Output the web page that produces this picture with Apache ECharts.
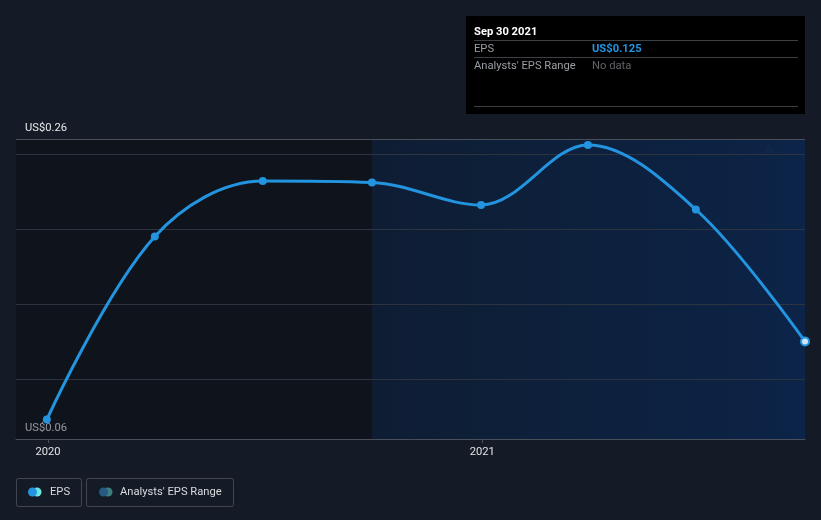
<!DOCTYPE html>
<html>
<head>
<meta charset="utf-8">
<script src="https://cdn.jsdelivr.net/npm/echarts@6/dist/echarts.min.js"></script>
<style>
html,body{margin:0;padding:0;background:#151b26;}
#c{width:821px;height:520px;}
</style>
</head>
<body>
<div id="c"></div>
<script>
var dates = ['2019-12-31','2020-03-31','2020-06-30','2020-09-30','2020-12-31','2021-03-31','2021-06-30','2021-09-30'];
var eps = [0.073, 0.195, 0.232, 0.231, 0.216, 0.256, 0.213, 0.125];
var yearTicks = ['2020-01-01','2021-01-01'];
var yLabelValues = [0.06, 0.26];
var gridValues = [0.10, 0.15, 0.20, 0.25];
var topValue = 0.26;
var xMin = '2019-12-05';
var xMax = '2021-09-30';
var pastEnd = '2020-09-30';
var tipDate = 'Sep 30 2021';
var tipEps = 'US$0.125';

function ts(s){ var p = s.split('-'); return new Date(+p[0], +p[1]-1, +p[2]).getTime(); }

var chart = echarts.init(document.getElementById('c'));
var font = 'Roboto, "Noto Sans", sans-serif';
var fs = 11.2;

var lineData = dates.map(function(d,i){
  var item = {value:[ts(d), eps[i]]};
  if (i === dates.length-1) item.itemStyle = {color:'#cfe6f8', borderColor:'#2394df', borderWidth:2};
  return item;
});

var option = {
  backgroundColor:'#151b26',
  animation:false,
  grid:{left:16,right:16,top:139,bottom:81},
  xAxis:{
    type:'value',
    min:ts(xMin), max:ts(xMax),
    axisLine:{show:true,lineStyle:{color:'#4a505a',width:1}},
    axisTick:{show:true,length:4,lineStyle:{color:'#4a505a'},customValues:yearTicks.map(ts)},
    axisLabel:{color:'#e0e2e5',fontSize:fs,fontFamily:font,margin:8,
      customValues:yearTicks.map(ts),
      formatter:function(v){return String(new Date(v).getFullYear());}},
    splitLine:{show:false}
  },
  yAxis:{
    type:'value', min:0.06, max:0.26,
    axisLine:{show:false}, axisTick:{show:false},
    splitLine:{show:false},
    axisLabel:{inside:true,margin:9,color:'#e8eaec',fontSize:fs,fontFamily:font,
      verticalAlign:'bottom',padding:[0,0,5,0],
      customValues:yLabelValues,
      formatter:function(v){return 'US$'+v.toFixed(2);}}
  },
  series:[{
    type:'line',
    data:lineData,
    smooth:0.35,
    symbol:'circle',
    symbolSize:8,
    showAllSymbol:true,
    lineStyle:{color:'#2394df',width:3},
    itemStyle:{color:'#2394df'},
    z:5,
    markArea:{
      silent:true,
      data:[
        [{xAxis:ts(xMin),itemStyle:{color:'rgba(6,8,12,0.38)'}},{xAxis:ts(pastEnd)}],
        [{xAxis:ts(pastEnd),itemStyle:{color:new echarts.graphic.LinearGradient(0,0,1,0,[{offset:0,color:'rgba(12,30,56,0.75)'},{offset:1,color:'rgba(12,36,72,1)'}])}},{xAxis:ts(xMax)}]
      ]
    },
    markLine:{
      silent:true,symbol:'none',label:{show:false},
      data:gridValues.map(function(v){return {yAxis:v,lineStyle:{color:'#2d3440',width:1,type:'solid'}};})
        .concat([{yAxis:topValue,lineStyle:{color:'#4a505a',width:1,type:'solid'}}])
    }
  }],
  graphic:[
    {type:'text',right:24,top:145,style:{text:'Actual',fill:'#ffffff',font:fs+'px '+font}},
    {type:'rect',shape:{x:466,y:16,width:339,height:98},style:{fill:'#000000'}},
    {type:'text',x:474,y:27,style:{text:tipDate,fill:'#ffffff',font:'bold '+fs+'px '+font}},
    {type:'line',shape:{x1:474,y1:40.5,x2:798,y2:40.5},style:{stroke:'#3c3f44',lineWidth:1}},
    {type:'text',x:474,y:44,style:{text:'EPS',fill:'#9a9da2',font:fs+'px '+font}},
    {type:'text',x:592,y:44,style:{text:tipEps,fill:'#2394df',font:'bold '+fs+'px '+font}},
    {type:'line',shape:{x1:474,y1:57.5,x2:798,y2:57.5},style:{stroke:'#3c3f44',lineWidth:1}},
    {type:'text',x:474,y:61,style:{text:"Analysts' EPS Range",fill:'#9a9da2',font:fs+'px '+font}},
    {type:'text',x:592,y:61,style:{text:'No data',fill:'#5f6267',font:fs+'px '+font}},
    {type:'line',shape:{x1:474,y1:106.5,x2:798,y2:106.5},style:{stroke:'#3c3f44',lineWidth:1}},
    {type:'rect',shape:{x:16.5,y:478.5,width:65,height:28,r:2},style:{fill:'none',stroke:'#42474f',lineWidth:1}},
    {type:'circle',shape:{cx:37,cy:492,r:4.5},style:{fill:'#6ee6dc'}},
    {type:'circle',shape:{cx:32.5,cy:492,r:4.5},style:{fill:'#2394df'}},
    {type:'text',x:50,y:486.5,style:{text:'EPS',fill:'#d8dadd',font:fs+'px '+font}},
    {type:'rect',shape:{x:86.5,y:478.5,width:147,height:28,r:2},style:{fill:'none',stroke:'#42474f',lineWidth:1}},
    {type:'circle',shape:{cx:108,cy:492,r:4.5},style:{fill:'#3d7f7c'}},
    {type:'circle',shape:{cx:103.5,cy:492,r:4.5},style:{fill:'#265a82'}},
    {type:'text',x:120,y:486.5,style:{text:"Analysts' EPS Range",fill:'#d8dadd',font:fs+'px '+font}}
  ]
};
chart.setOption(option);
</script>
</body>
</html>
